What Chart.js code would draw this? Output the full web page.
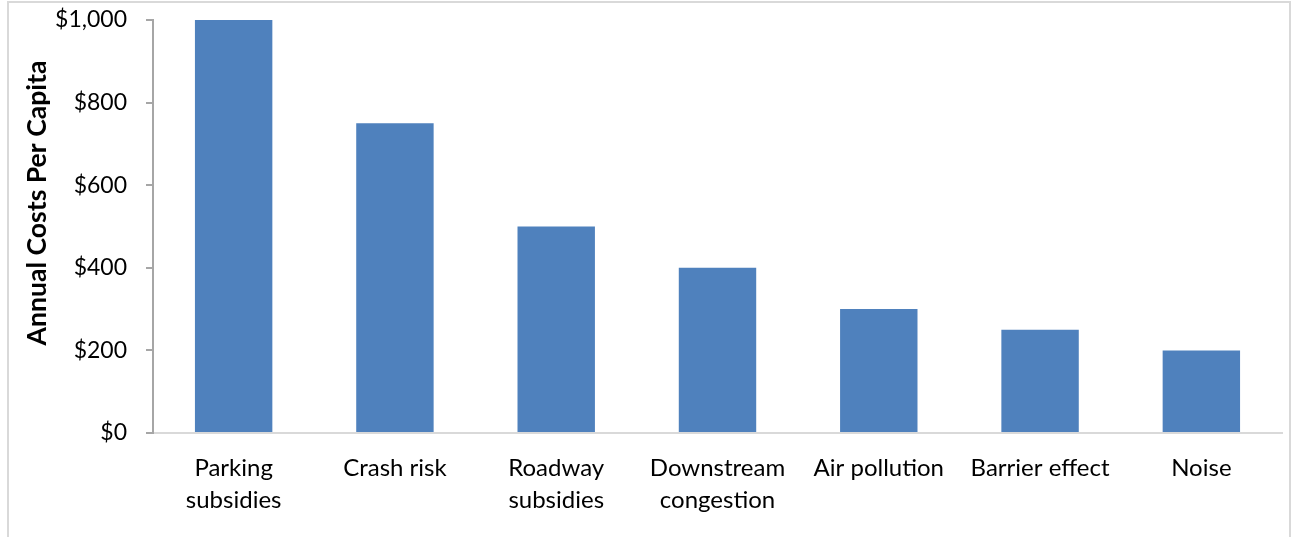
<!DOCTYPE html>
<html>
<head>
<meta charset="utf-8">
<script src="https://cdn.jsdelivr.net/npm/chart.js@4.4.1/dist/chart.umd.min.js"></script>
<style>
  html, body { margin: 0; padding: 0; background: #fff; }
  #wrap { position: relative; width: 1296px; height: 537px; overflow: hidden; }
  #frame { position: absolute; left: 7px; top: 1px; width: 1284px; height: 560px;
           border: 2px solid #d9d9d9; box-sizing: border-box; pointer-events: none; }
  canvas { position: absolute; left: 0; top: 0; }
</style>
</head>
<body>
<div id="wrap">
  <div id="frame"></div>
  <canvas id="c" width="1296" height="537"></canvas>
</div>
<script>
const categories = [
  ['Parking', 'subsidies'],
  'Crash risk',
  ['Roadway', 'subsidies'],
  ['Downstream', 'congestion'],
  'Air pollution',
  'Barrier effect',
  'Noise'
];
const costsPerCapita = [1000, 750, 500, 400, 300, 250, 200];
const yTickValues = [0, 200, 400, 600, 800, 1000];
const yTitle = 'Annual Costs Per Capita';

const FONT = 'Lato, "Open Sans", sans-serif';

// Rotated y-axis title drawn beside the value axis, sized to a fixed length
const yTitlePlugin = {
  id: 'yTitle',
  afterDraw(chart) {
    const ctx = chart.ctx;
    ctx.save();
    ctx.font = 'bold 24px ' + FONT;
    const w = ctx.measureText(yTitle).width;
    const size = 24 * 285 / w;
    ctx.font = 'bold ' + size.toFixed(2) + 'px ' + FONT;
    ctx.translate(37, 203);
    ctx.rotate(-Math.PI / 2);
    ctx.fillStyle = '#000';
    ctx.textAlign = 'center';
    ctx.textBaseline = 'middle';
    ctx.fillText(yTitle, 0, 0);
    ctx.restore();
  }
};

new Chart(document.getElementById('c'), {
  type: 'bar',
  data: {
    labels: categories,
    datasets: [{
      data: costsPerCapita,
      backgroundColor: '#4f81bd',
      borderWidth: 0,
      barPercentage: 0.48,
      categoryPercentage: 1
    }]
  },
  options: {
    responsive: false,
    animation: false,
    devicePixelRatio: 1,
    layout: { padding: { top: 20, right: 14, bottom: 0, left: 0 } },
    plugins: {
      legend: { display: false },
      tooltip: { enabled: false }
    },
    scales: {
      x: {
        grid: { display: false },
        border: { display: true, color: '#d9d9d9', width: 2 },
        ticks: {
          color: '#000',
          font: { family: FONT, size: 24, lineHeight: 1.333 },
          padding: 11,
          maxRotation: 0,
          autoSkip: false
        },
        afterFit(scale) {
          scale.height = 104;
          scale.paddingLeft = 0;
          scale.paddingRight = 0;
        }
      },
      y: {
        min: 0,
        max: 1000,
        afterBuildTicks(scale) { scale.ticks = yTickValues.map(v => ({ value: v })); },
        grid: {
          drawOnChartArea: false,
          drawTicks: true,
          tickLength: 7,
          color: '#a6a6a6',
          lineWidth: 2
        },
        border: { display: true, color: '#a6a6a6', width: 2 },
        ticks: {
          color: '#000',
          font: { family: FONT, size: 23 },
          padding: 19,
          callback: v => '$' + v.toLocaleString('en-US')
        },
        afterFit(scale) {
          scale.width = 153;
          scale.paddingTop = 0;
          scale.paddingBottom = 0;
        }
      }
    }
  },
  plugins: [yTitlePlugin]
});
</script>
</body>
</html>
